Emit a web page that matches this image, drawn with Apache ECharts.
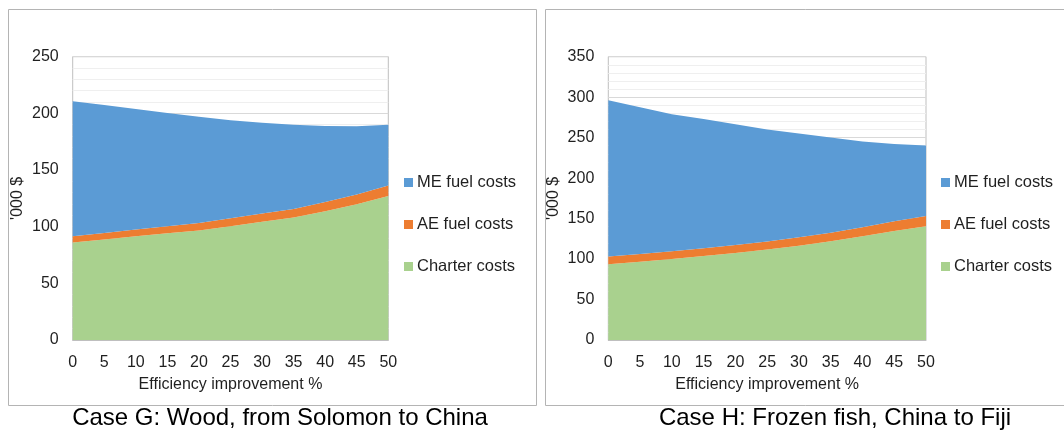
<!DOCTYPE html>
<html><head><meta charset="utf-8">
<script src="https://cdn.jsdelivr.net/npm/echarts@6/dist/echarts.min.js"></script>
<style>html,body{margin:0;padding:0;background:#fff}#c{width:1064px;height:430px}</style>
</head><body><div id="c"></div>
<script>
// Efficiency improvement % categories
const xCategories = ['0','5','10','15','20','25','30','35','40','45','50'];
const seriesNames = ['ME fuel costs','AE fuel costs','Charter costs'];

// Case G: Wood, from Solomon to China ('000 $)
const caseG_charter = [86.0, 88.7, 91.5, 94.1, 96.7, 100.4, 104.3, 108.0, 113.6, 119.7, 127.0];
const caseG_AE      = [5.5, 5.8, 6.0, 6.3, 6.6, 7.0, 7.3, 7.7, 8.2, 8.8, 9.4];
const caseG_ME      = [119.2, 112.8, 106.4, 99.9, 93.6, 86.6, 80.1, 74.3, 67.0, 60.2, 53.6];

// Case H: Frozen fish, China to Fiji ('000 $)
const caseH_charter = [93.7, 96.8, 100.2, 103.8, 107.5, 111.7, 116.5, 121.9, 128.2, 134.8, 140.5];
const caseH_AE      = [9.4, 9.4, 9.5, 9.6, 9.8, 10.0, 10.3, 10.7, 11.2, 11.9, 12.8];
const caseH_ME      = [193.1, 181.3, 169.2, 159.7, 149.2, 138.3, 128.2, 117.7, 105.9, 95.3, 87.0];

const yMaxG = 250, yMaxH = 350, yStep = 50;
const captions = ['Case G: Wood, from Solomon to China', 'Case H: Frozen fish, China to Fiji'];
const xName = 'Efficiency improvement %';
const yName = "'000 $";

const FONT = '"Liberation Sans", Arial, sans-serif';
const TXT = '#1f1f1f';
const colors = {'ME fuel costs':'#5B9BD5','AE fuel costs':'#ED7D31','Charter costs':'#A9D18E'};

function xAxis(gi){
  return {
    type:'category', gridIndex:gi, data:xCategories, boundaryGap:false,
    name:xName, nameLocation:'middle', nameGap:37,
    nameTextStyle:{fontFamily:FONT, fontSize:16, color:TXT},
    axisLine:{show:true, lineStyle:{color:'#bfbfbf'}},
    axisTick:{show:false},
    axisLabel:{fontFamily:FONT, fontSize:16, color:TXT, margin:15, interval:0},
    splitLine:{show:false}
  };
}
function yAxis(gi, max){
  return {
    type:'value', gridIndex:gi, min:0, max:max, interval:yStep,
    name:yName, nameLocation:'middle', nameGap:47,
    nameTextStyle:{fontFamily:FONT, fontSize:16, color:TXT},
    axisLine:{show:false}, axisTick:{show:false},
    axisLabel:{fontFamily:FONT, fontSize:16, color:TXT, margin:14},
    splitLine:{show:true, lineStyle:{color:'#d9d9d9', width:1}},
    minorTick:{show:false, splitNumber:5},
    minorSplitLine:{show:true, lineStyle:{color:'#efefef', width:1}}
  };
}
function areaSeries(name, data, gi, stack){
  return {
    name:name, type:'line', xAxisIndex:gi, yAxisIndex:gi, stack:stack,
    data:data, showSymbol:false, symbol:'none', smooth:false,
    lineStyle:{width:0}, areaStyle:{color:colors[name], opacity:1},
    itemStyle:{color:colors[name]}, emphasis:{disabled:true}
  };
}
function legend(left){
  return {
    orient:'vertical', left:left, top:174, itemWidth:9, itemHeight:9, itemGap:25,
    icon:'rect', data:seriesNames, padding:0,
    textStyle:{fontFamily:FONT, fontSize:16.5, color:TXT, padding:[0,0,0,-1]}
  };
}

const option = {
  animation:false,
  backgroundColor:'#fff',
  title:[
    {text:captions[0], left:280, top:406, textAlign:'center', padding:0,
     textStyle:{fontFamily:FONT, fontSize:24, fontWeight:'normal', color:'#000'}},
    {text:captions[1], left:835, top:406, textAlign:'center', padding:0,
     textStyle:{fontFamily:FONT, fontSize:24, fontWeight:'normal', color:'#000'}}
  ],
  legend:[legend(404), legend(941)],
  grid:[
    {left:72.7, top:56.7, width:315.6, height:283.3, show:true, borderColor:'#bfbfbf', borderWidth:1, backgroundColor:'transparent'},
    {left:608.3, top:56.7, width:317.7, height:283.3, show:true, borderColor:'#bfbfbf', borderWidth:1, backgroundColor:'transparent'}
  ],
  xAxis:[xAxis(0), xAxis(1)],
  yAxis:[yAxis(0, yMaxG), yAxis(1, yMaxH)],
  series:[
    areaSeries('Charter costs', caseG_charter, 0, 'g'),
    areaSeries('AE fuel costs', caseG_AE, 0, 'g'),
    areaSeries('ME fuel costs', caseG_ME, 0, 'g'),
    areaSeries('Charter costs', caseH_charter, 1, 'h'),
    areaSeries('AE fuel costs', caseH_AE, 1, 'h'),
    areaSeries('ME fuel costs', caseH_ME, 1, 'h')
  ],
  graphic:[
    {type:'rect', shape:{x:8.5, y:9.5, width:528, height:396}, style:{fill:null, stroke:'#b4b4b4', lineWidth:1}, silent:true},
    {type:'rect', shape:{x:545.5, y:9.5, width:530, height:396}, style:{fill:null, stroke:'#b4b4b4', lineWidth:1}, silent:true}
  ]
};
const chart = echarts.init(document.getElementById('c'), null, {renderer:'canvas'});
chart.setOption(option);
</script>
</body></html>
